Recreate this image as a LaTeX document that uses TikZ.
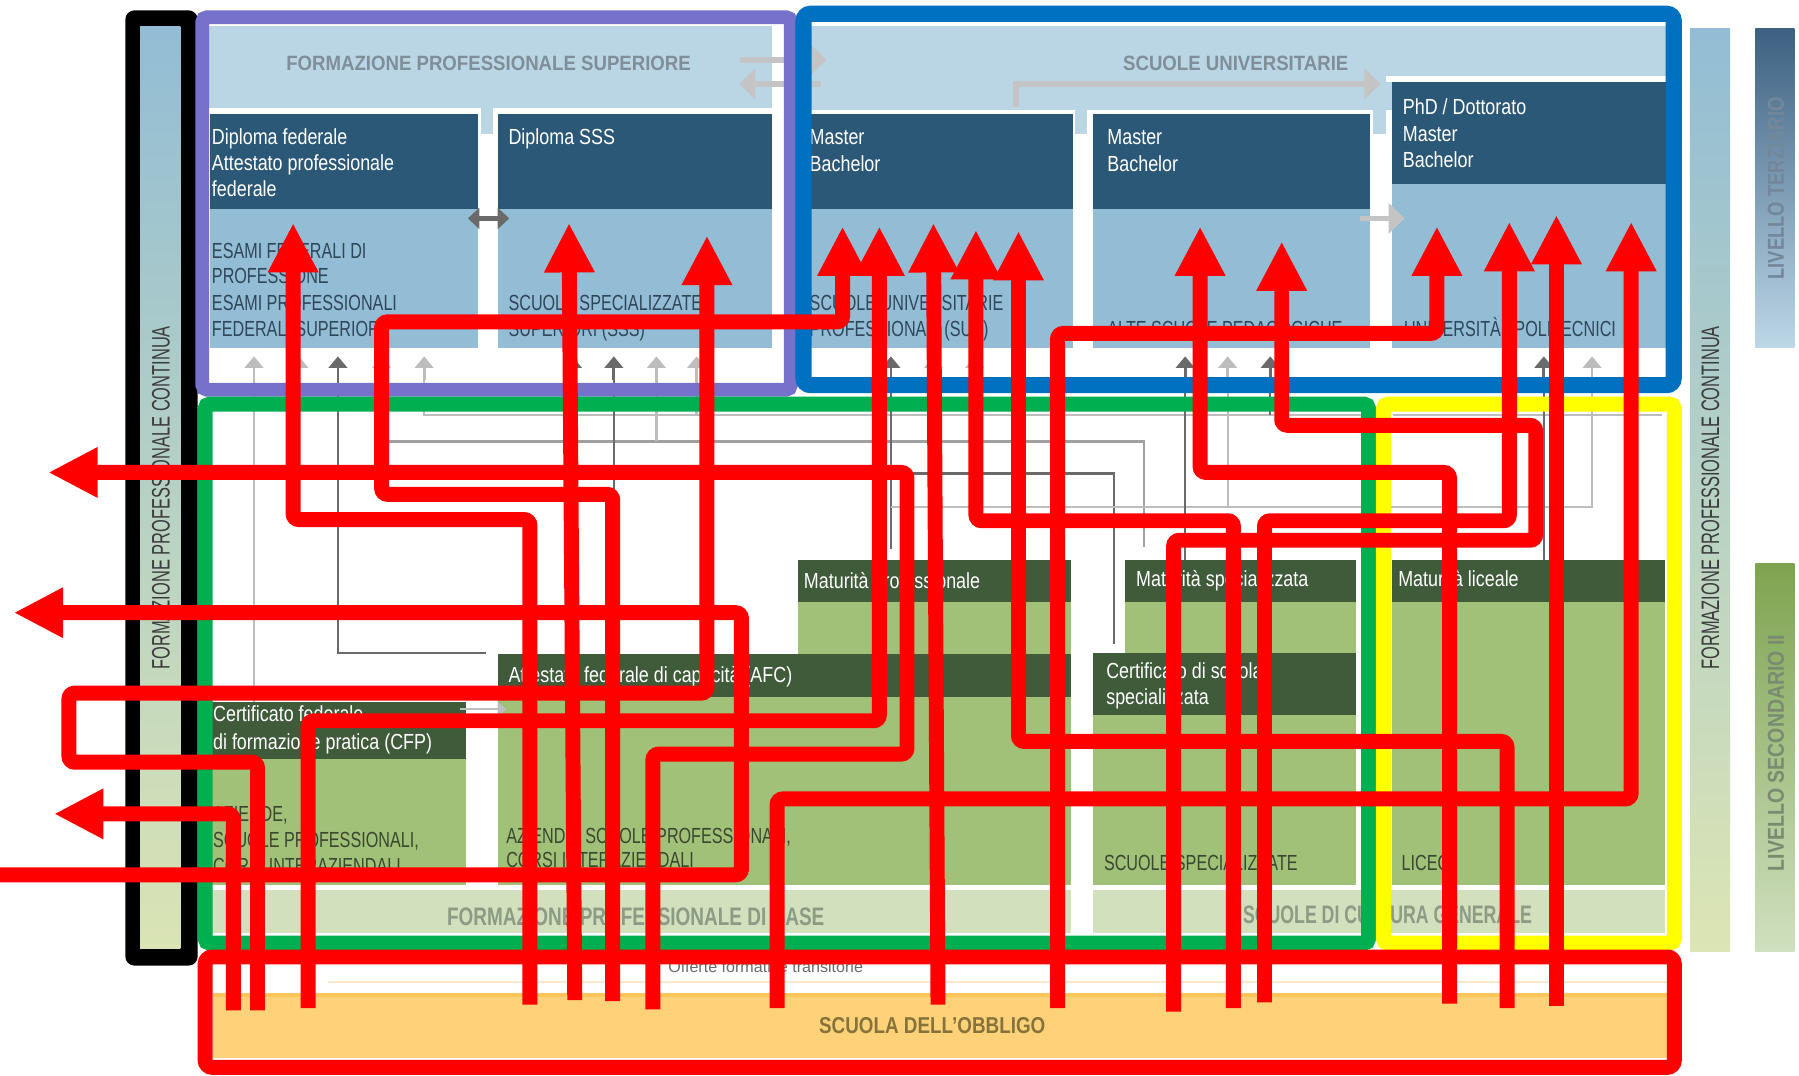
\documentclass[tikz,border=0pt]{standalone}
\usepackage{fontspec}
\usepackage{graphicx}
\setmainfont{Liberation Sans}
\usetikzlibrary{arrows.meta}
\definecolor{purp}{HTML}{7672CC}
\definecolor{blu}{HTML}{0070C0}
\definecolor{grn}{HTML}{00B050}
\definecolor{yel}{HTML}{FFFF00}
\definecolor{rd}{HTML}{FF0000}
\definecolor{hdr}{HTML}{BAD6E4}
\definecolor{dkb}{HTML}{2C5877}
\definecolor{mdb}{HTML}{92BDD5}
\definecolor{dkg}{HTML}{3F5B3A}
\definecolor{ltg}{HTML}{A1C078}
\definecolor{bandg}{HTML}{D2E0BD}
\definecolor{orng}{HTML}{FFD27A}
\definecolor{orngd}{HTML}{FFC65A}
\definecolor{palor}{HTML}{FCE6CC}
\definecolor{txtb}{HTML}{30465A}
\definecolor{txtg}{HTML}{3A4830}
\definecolor{hdrt}{HTML}{7F8E99}
\definecolor{bandt}{HTML}{8C9C84}
\definecolor{obbl}{HTML}{86733A}
\definecolor{lgray}{HTML}{BDBDBD}
\definecolor{mgray}{HTML}{A0A0A0}
\definecolor{dgray}{HTML}{6A6A6A}
\definecolor{hgray}{HTML}{C4C4C4}
\definecolor{stript}{HTML}{3C3C3C}
\definecolor{lvta}{HTML}{74879A}
\definecolor{lvtb}{HTML}{7A8B72}
\newcommand{\sq}[2]{\scalebox{#1}[1]{#2}}
\tikzset{
  wt/.style={anchor=base west, inner sep=0pt, text=white, font=\fontsize{9.5}{11}\selectfont},
  bt/.style={anchor=base west, inner sep=0pt, text=txtb, font=\fontsize{9.5}{11}\selectfont},
  gt/.style={anchor=base west, inner sep=0pt, text=txtg, font=\fontsize{9.5}{11}\selectfont},
  hd/.style={anchor=base, inner sep=0pt, text=hdrt, font=\fontsize{9}{11}\selectfont\bfseries},
  bd/.style={anchor=base, inner sep=0pt, text=bandt, font=\fontsize{11}{13}\selectfont\bfseries},
  stripfont/.style={rotate=90, inner sep=0pt, text=stript, font=\fontsize{11}{13}\selectfont},
  lvl/.style={rotate=90, inner sep=0pt, font=\fontsize{10}{12}\selectfont\bfseries},
  redar/.style={draw=rd, line width=6.5pt, rounded corners=2.5pt, -{Triangle[length=21.5pt,width=20.5pt]}},
  smar/.style={line width=1.2pt, -{Triangle[length=5pt,width=8pt]}},
  thin/.style={line width=1pt},
  harr/.style={draw=hgray, line width=2.5pt, -{Triangle[length=7pt,width=13pt]}}
}
\begin{document}
\begin{tikzpicture}[x=0.5pt,y=-0.5pt]
\useasboundingbox (0,0) rectangle (1565,936);
\fill[white] (0,0) rectangle (1565,936);

% left black frame and strip
\fill[black, rounded corners=4pt] (109,9) rectangle (172,840);
\shade[top color=mdb, bottom color={rgb,255:red,218;green,228;blue,180}] (122,23) rectangle (157,825);

% ---------- purple block contents
\fill[hdr] (182,23) rectangle (672,94);
\fill[hdr] (418,94) rectangle (429,117);
\fill[dkb] (183,99) rectangle (416,182);
\fill[mdb] (183,182) rectangle (416,303);
\fill[dkb] (433,99) rectangle (672,182);
\fill[mdb] (433,182) rectangle (672,303);

% ---------- blue block contents
\fill[hdr] (700,23) rectangle (1451,96);
\fill[hdr] (935,96) rectangle (946,117);
\fill[hdr] (1194,96) rectangle (1206,117);
\fill[dkb] (700,99) rectangle (933,182);
\fill[mdb] (700,182) rectangle (933,303);
\fill[dkb] (951,99) rectangle (1192,182);
\fill[mdb] (951,182) rectangle (1192,303);
\fill[white] (1206,66) rectangle (1451,71);
\fill[dkb] (1211,71) rectangle (1451,160);
\fill[mdb] (1211,160) rectangle (1451,303);

% ---------- green / yellow block contents
\fill[dkg] (184,611) rectangle (405,660);
\fill[ltg] (184,660) rectangle (405,770);
\fill[ltg] (433,606) rectangle (932,770);
\fill[dkg] (433,569) rectangle (932,606);
\fill[dkg] (694,487) rectangle (932,524);
\fill[ltg] (694,524) rectangle (932,569);
\fill[dkg] (979,487) rectangle (1180,524);
\fill[ltg] (979,524) rectangle (1180,568);
\fill[dkg] (951,568) rectangle (1180,622);
\fill[ltg] (951,622) rectangle (1180,770);
\fill[dkg] (1211,487) rectangle (1448,524);
\fill[ltg] (1211,524) rectangle (1448,770);
\fill[bandg] (183,774) rectangle (1448,812);
\fill[white] (932,770) rectangle (951,812);

% ---------- compulsory school band
\draw[palor, line width=1pt] (285,854) -- (1450,854);
\fill[orng] (185,864) rectangle (1450,920);
\fill[orngd] (185,864) rectangle (1450,867);

% ---------- right strips
\shade[top color=mdb, bottom color={rgb,255:red,220;green,229;blue,180}] (1470,25) rectangle (1505,828);
\shade[top color={rgb,255:red,61;green,97;blue,130}, bottom color={rgb,255:red,189;green,215;blue,231}] (1527,25) rectangle (1561,302);
\shade[top color={rgb,255:red,126;green,163;blue,79}, bottom color={rgb,255:red,208;green,224;blue,192}] (1527,490) rectangle (1561,828);

% ---------- thin grey connector lines
\draw[lgray, thin] (221,322) -- (221,611);
\draw[dgray, thin] (294,322) -- (294,568) -- (423,568);
\draw[lgray, thin] (369,322) -- (369,361) -- (1186,361);
\draw[lgray, thin] (1212,361) -- (1446,361);
\draw[mgray, thin] (332,322) -- (332,384) -- (995,384) -- (995,476);
\draw[lgray, thin] (571,322) -- (571,384);
\draw[dgray, thin] (534,322) -- (534,430);
\draw[dgray, thin] (294,412) -- (969,412) -- (969,560);
\draw[dgray, thin] (775,322) -- (775,478);
\draw[lgray, thin] (775,441) -- (1385,441) -- (1385,322);
\draw[dgray, thin] (1031,322) -- (1031,487);
\draw[lgray, thin] (1068,322) -- (1068,441);
\draw[dgray, thin] (1343,322) -- (1343,487);
\draw[lgray, thin] (498,322) -- (498,361);
\draw[lgray, thin] (606,322) -- (606,361);
\draw[lgray, thin] (812,322) -- (812,361);
\draw[lgray, thin] (848,322) -- (848,361);
\draw[dgray, thin] (1105,322) -- (1105,361);
\draw[lgray, thin, -{Triangle[length=4pt,width=6pt]}] (400,617) -- (441,617);

% small up arrows in the white bands
\foreach \xx in {221,260,332,369,571,606,812,848,1068,1385}
  \draw[smar, lgray] (\xx,331) -- (\xx,310);
\foreach \xx in {294,498,534,775,1031,1105,1343}
  \draw[smar, dgray] (\xx,331) -- (\xx,310);

% header arrows
\draw[harr] (644,52) -- (719,52);
\draw[harr] (714,73) -- (643,73);
\draw[harr] (884,93) -- (884,73) -- (1201,73);
\draw[harr] (1183,190) -- (1222,190);
\draw[dgray, line width=2pt, {Triangle[length=5pt,width=9pt]}-{Triangle[length=5pt,width=9pt]}] (407,190) -- (443,190);

% ---------- texts
\node[hd] (hfps) at (425,61) {\sq{0.9}{FORMAZIONE PROFESSIONALE SUPERIORE}};
\node[hd] (hsu) at (1075,61) {\sq{0.9}{SCUOLE UNIVERSITARIE}};

\node[wt] (b1a) at (184,126) {\sq{0.82}{Diploma federale}};
\node[wt] (b1b) at (184,148) {\sq{0.82}{Attestato professionale}};
\node[wt] (b1c) at (184,171) {\sq{0.82}{federale}};
\node[bt] (b1d) at (184,225) {\sq{0.74}{ESAMI FEDERALI DI}};
\node[bt] (b1e) at (184,247) {\sq{0.74}{PROFESSIONE}};
\node[bt] (b1f) at (184,270) {\sq{0.74}{ESAMI PROFESSIONALI}};
\node[bt] (b1g) at (184,293) {\sq{0.74}{FEDERALI SUPERIORI}};

\node[wt] (b2a) at (442,126) {\sq{0.82}{Diploma SSS}};
\node[bt] (b2b) at (442,270) {\sq{0.74}{SCUOLE SPECIALIZZATE}};
\node[bt] (b2c) at (442,293) {\sq{0.74}{SUPERIORI (SSS)}};

\node[wt] (b3a) at (704,126) {\sq{0.82}{Master}};
\node[wt] (b3b) at (704,149) {\sq{0.82}{Bachelor}};
\node[bt] (b3c) at (704,270) {\sq{0.74}{SCUOLE UNIVERSITARIE}};
\node[bt] (b3d) at (704,293) {\sq{0.74}{PROFESSIONALI (SUP)}};

\node[wt] (b4a) at (963,126) {\sq{0.82}{Master}};
\node[wt] (b4b) at (963,149) {\sq{0.82}{Bachelor}};
\node[bt] (b4c) at (963,293) {\sq{0.74}{ALTE SCUOLE PEDAGOGICHE}};

\node[wt] (b5a) at (1220,100) {\sq{0.82}{PhD / Dottorato}};
\node[wt] (b5b) at (1220,123) {\sq{0.82}{Master}};
\node[wt] (b5c) at (1220,146) {\sq{0.82}{Bachelor}};
\node[bt] (b5d) at (1221,293) {\sq{0.74}{UNIVERSITÀ / POLITECNICI}};

\node[wt] (g1) at (699,512) {\sq{0.82}{Maturità professionale}};
\node[wt] (g2) at (442,594) {\sq{0.82}{Attestato federale di capacità (AFC)}};
\node[wt] (g3) at (185,628) {\sq{0.82}{Certificato federale}};
\node[wt] (g4) at (185,652) {\sq{0.82}{di formazione pratica (CFP)}};
\node[gt] (g5) at (185,715) {\sq{0.74}{AZIENDE,}};
\node[gt] (g6) at (185,737) {\sq{0.74}{SCUOLE PROFESSIONALI,}};
\node[gt] (g7) at (185,760) {\sq{0.74}{CORSI INTERAZIENDALI}};
\node[gt] (g8) at (440,734) {\sq{0.74}{AZIENDE, SCUOLE PROFESSIONALI,}};
\node[gt] (g9) at (440,755) {\sq{0.74}{CORSI INTERAZIENDALI}};
\node[wt] (g10) at (988,510) {\sq{0.82}{Maturità specializzata}};
\node[wt] (g11) at (962,590) {\sq{0.82}{Certificato di scuola}};
\node[wt] (g12) at (962,613) {\sq{0.82}{specializzata}};
\node[gt] (g13) at (960,757) {\sq{0.74}{SCUOLE SPECIALIZZATE}};
\node[wt] (g14) at (1216,510) {\sq{0.82}{Maturità liceale}};
\node[gt] (g15) at (1219,757) {\sq{0.74}{LICEO}};
\node[bd] (fpb) at (553,805) {\sq{0.75}{FORMAZIONE PROFESSIONALE DI BASE}};
\node[bd] (scg) at (1207,803) {\sq{0.70}{SCUOLE DI CULTURA GENERALE}};

\node[anchor=base west, inner sep=0pt, text=dgray, font=\fontsize{7}{8}\selectfont] (otr) at (581,846) {Offerte formative transitorie};
\node[anchor=base, inner sep=0pt, text=obbl, font=\fontsize{10}{12}\selectfont\bfseries] (sdo) at (811,899) {\sq{0.82}{SCUOLA DELL'OBBLIGO}};

\node[stripfont] (fpcl) at (140,433) {\sq{0.65}{FORMAZIONE PROFESSIONALE CONTINUA}};
\node[stripfont] (fpcr) at (1488,433) {\sq{0.65}{FORMAZIONE PROFESSIONALE CONTINUA}};
\node[lvl, text=lvta] (lter) at (1545,164) {\sq{0.8}{LIVELLO TERZIARIO}};
\node[lvl, text=lvtb] (lsec) at (1545,655) {\sq{0.85}{LIVELLO SECONDARIO II}};

% ---------- coloured frames
\draw[purp, line width=6pt, rounded corners=2pt] (176,15) rectangle (688,339);
\draw[blu, line width=7pt, rounded corners=3pt] (699,12) rectangle (1456,335);
\draw[grn, line width=6.5pt, rounded corners=2pt] (178.5,351.5) rectangle (1190.5,820.5);
\draw[yel, line width=6.5pt, rounded corners=2pt] (1203.5,351.5) rectangle (1456.5,820.5);
\draw[rd, line width=6.5pt, rounded corners=3pt] (178.5,832.5) rectangle (1456.5,928.5);

% ---------- red paths
\coordinate (s1) at (533,871);  \coordinate (e1) at (733,197);
\coordinate (s2) at (461,874);  \coordinate (e2) at (255,194);
\coordinate (s3) at (500,870);  \coordinate (e3) at (495,194);
\coordinate (s4) at (224,879);  \coordinate (e4) at (615,205);
\coordinate (s5) at (268,877);  \coordinate (e5) at (765,197);
\coordinate (s6) at (568,878);  \coordinate (e6) at (42,411);
\coordinate (s7) at (0,761);    \coordinate (e7) at (12,533);
\coordinate (s8) at (203,879);  \coordinate (e8) at (47,708);
\coordinate (s9) at (676,877);  \coordinate (e9) at (1419,193);
\coordinate (s10) at (1311,877); \coordinate (e10) at (886,201);
\coordinate (s11) at (1073,877); \coordinate (e11) at (849,200);
\coordinate (s12) at (920,877);  \coordinate (e12) at (1250,197);
\coordinate (s13) at (816,874);  \coordinate (e13) at (812,194);
\coordinate (s14) at (1261,873); \coordinate (e14) at (1044,197);
\coordinate (s15) at (1021,880); \coordinate (e15) at (1115,210);
\coordinate (s16) at (1100,872); \coordinate (e16) at (1313,193);
\coordinate (s17) at (1354,875); \coordinate (e17) at (1354,187);

\draw[redar] (s1) -- (533,430) -- (332,430) -- (332,280) -- (733,280) -- (e1);
\draw[redar] (s2) -- (461,452) -- (255,452) -- (e2);
\draw[redar] (s3) -- (e3);
\draw[redar] (s4) -- (224,663) -- (60,663) -- (60,603) -- (615,603) -- (e4);
\draw[redar] (s5) -- (268,627) -- (765,627) -- (e5);
\draw[redar] (s6) -- (568,656) -- (789,656) -- (789,411) -- (e6);
\draw[redar] (s7) -- (645,761) -- (645,533) -- (e7);
\draw[redar] (s8) -- (203,708) -- (e8);
\draw[redar] (s9) -- (676,695) -- (1419,695) -- (e9);
\draw[redar] (s10) -- (1311,645) -- (886,645) -- (e10);
\draw[redar] (s11) -- (1073,453) -- (849,453) -- (e11);
\draw[redar] (s12) -- (920,290) -- (1250,290) -- (e12);
\draw[redar] (s13) -- (e13);
\draw[redar] (s14) -- (1261,411) -- (1044,411) -- (e14);
\draw[redar] (s15) -- (1021,470) -- (1336,470) -- (1336,370) -- (1115,370) -- (e15);
\draw[redar] (s16) -- (1100,453) -- (1313,453) -- (e16);
\draw[redar] (s17) -- (e17);
\end{tikzpicture}
\end{document}
